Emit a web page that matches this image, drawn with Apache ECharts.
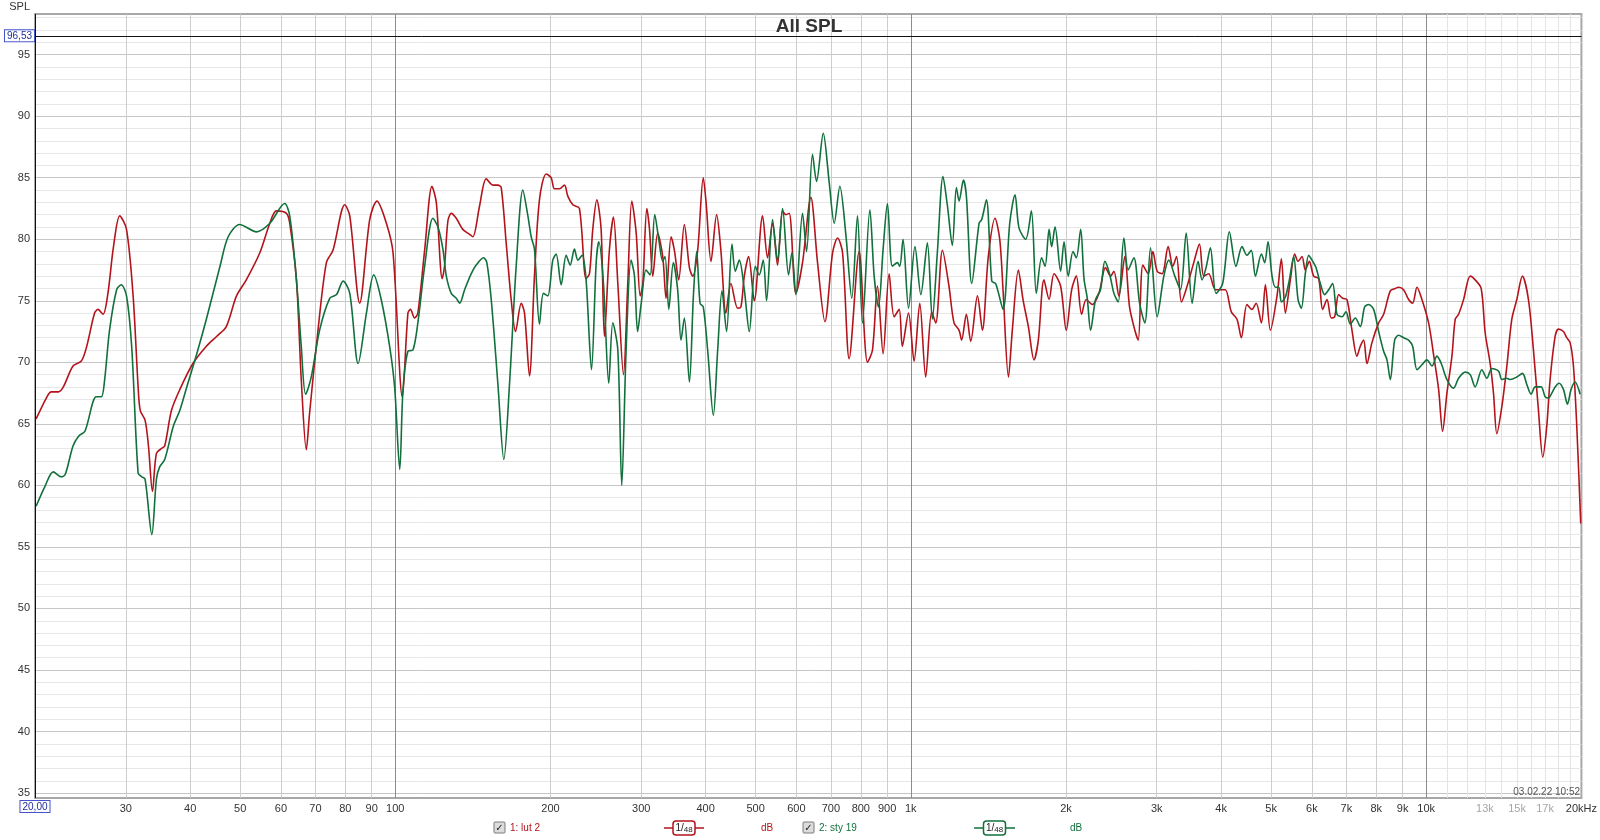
<!DOCTYPE html>
<html><head><meta charset="utf-8">
<script src="https://cdn.jsdelivr.net/npm/echarts@6/dist/echarts.min.js"></script>
<style>html,body{margin:0;padding:0;background:#fff}#c{width:1600px;height:840px}</style>
</head><body><div id="c"></div><script>
// ---- data (frequency Hz, level dB) ----
const lut2Curve = [[20.1,65.4],[21.1,67.2],[21.5,67.6],[22.2,67.6],[22.7,68.0],[23.7,69.7],[24.6,70.1],[25.2,71.3],[26.1,74.0],[26.5,74.3],[27.1,73.9],[27.7,75.6],[28.4,79.4],[29.2,81.9],[30.1,80.8],[31.0,75.4],[31.7,68.0],[32.0,66.1],[32.7,65.3],[33.2,63.2],[33.8,59.5],[34.4,62.6],[35.2,63.0],[35.7,63.2],[36.8,66.1],[38.2,67.8],[40.5,69.9],[43.0,71.3],[45.0,72.1],[47.0,72.9],[49.2,75.4],[51.4,76.7],[54.6,78.9],[57.1,81.3],[58.8,82.3],[61.5,82.1],[62.4,81.3],[64.3,76.7],[65.7,68.6],[67.2,62.9],[68.2,65.9],[70.8,72.6],[73.5,78.1],[75.7,79.1],[79.8,82.8],[81.6,81.9],[85.3,74.8],[89.2,81.6],[92.1,83.1],[96.1,81.3],[99.0,78.9],[103.2,67.2],[105.8,74.0],[107,74.3],[109,73.6],[110.6,74.0],[114,79.1],[117.8,84.3],[120.1,83.0],[123.3,76.8],[124.6,77.8],[126.5,81.5],[128.4,82.1],[131.3,81.7],[135.2,80.8],[139.3,80.4],[141.4,80.2],[145.7,82.7],[150.1,84.9],[154.6,84.4],[158.1,84.4],[160.5,84.2],[164.1,79.7],[167.8,75.1],[171.1,72.5],[175.5,74.8],[178.1,74.0],[182.1,68.9],[186.2,77.0],[190.4,83.2],[196.2,85.3],[200.6,85.0],[203.6,84.1],[208.2,84.1],[212.9,84.4],[216.1,83.5],[221,82.8],[227.6,82.5],[234.5,76.8],[238.1,77.2],[241.6,80.8],[246,83.2],[250.8,80.8],[254.5,72.1],[260.2,79.1],[265,81.8],[270.2,76.4],[277.1,69.0],[282.5,76.4],[287.6,83.1],[293.3,80.5],[298.6,75.4],[302.1,76.4],[307.6,82.5],[311.3,80.8],[315.9,77.0],[322.9,80.5],[330.2,78.6],[335.2,75.2],[342.8,80.2],[347.9,79.1],[354.6,76.7],[363.7,81.2],[372,77.7],[377.5,77.0],[386,79.1],[395.8,85.0],[400.6,83.1],[409.7,78.2],[420.1,82.0],[428.2,79.1],[437.9,74.0],[447.8,76.4],[461.4,74.4],[468.3,74.5],[475.4,77.0],[484.6,78.6],[497,75.0],[515.8,81.9],[527.4,78.5],[539.3,81.3],[551.5,77.9],[564,82.3],[572.4,82.0],[581,82.1],[598.6,75.6],[616.6,78.1],[640,83.4],[659.4,78.1],[681.5,73.3],[705.2,78.9],[721.2,80.1],[737.4,78.9],[759.4,70.3],[794,79.0],[824.2,70.0],[842.8,71.0],[861.8,76.2],[883.8,70.7],[907.8,77.2],[928.4,73.7],[949.4,74.3],[963,71.3],[990,74.0],[1015,70.1],[1041,74.8],[1069,68.8],[1098,74.1],[1118,73.2],[1152,79.1],[1186,76.2],[1213,73.2],[1241,72.6],[1255,71.8],[1282,73.9],[1307,71.7],[1347,75.4],[1377,72.6],[1414,78.6],[1457,81.7],[1488,80.0],[1510,75.9],[1547,68.8],[1574,72.6],[1617,77.5],[1651,75.1],[1691,72.9],[1734,70.2],[1768,71.8],[1813,76.7],[1855,75.1],[1896,77.2],[1953,76.2],[2003,72.6],[2052,75.9],[2095,77.0],[2145,73.9],[2190,75.1],[2249,74.7],[2317,75.6],[2387,77.7],[2441,77.0],[2478,77.4],[2533,75.4],[2602,78.6],[2657,74.5],[2721,72.6],[2762,71.8],[2820,77.9],[2888,77.2],[2949,79.0],[3006,77.4],[3074,77.2],[3157,79.4],[3224,77.8],[3278,78.6],[3351,74.9],[3437,76.2],[3540,78.1],[3631,79.6],[3701,77.0],[3784,77.2],[3899,75.9],[3987,75.9],[4076,75.9],[4187,74.1],[4294,73.5],[4378,72.0],[4490,74.7],[4591,74.3],[4677,74.8],[4789,73.2],[4875,76.3],[4985,72.6],[5135,75.4],[5236,78.4],[5330,74.0],[5450,76.7],[5556,78.8],[5640,78.2],[5741,78.6],[5827,77.5],[5932,78.2],[6048,77.0],[6184,76.8],[6295,74.3],[6419,75.1],[6543,73.6],[6642,73.7],[6762,75.5],[6884,75.2],[7018,75.1],[7177,72.6],[7339,70.5],[7448,71.3],[7560,71.8],[7674,69.9],[7847,71.6],[8085,73.2],[8267,73.9],[8517,75.8],[8710,76.0],[8839,76.1],[9038,75.9],[9243,75.1],[9410,74.8],[9595,76.1],[9809,75.1],[10106,73.2],[10335,70.6],[10568,67.8],[10758,64.4],[10968,67.5],[11216,70.5],[11383,73.5],[11554,73.9],[11815,75.1],[12169,77.0],[12443,76.7],[12781,76.0],[13011,72.4],[13305,69.9],[13504,67.5],[13707,64.2],[14017,66.4],[14336,69.7],[14656,73.5],[14986,75.1],[15366,77.0],[15786,75.1],[16143,71.0],[16508,66.1],[16828,62.3],[17132,64.8],[17390,68.6],[17784,72.1],[18050,72.7],[18456,72.5],[18734,72.0],[19016,71.6],[19300,69.7],[19590,64.8],[19940,56.9]];

const sty19Curve = [[20.1,58.3],[20.9,59.9],[21.7,61.1],[22.5,60.7],[22.9,60.9],[23.7,63.2],[24.3,64.0],[25.0,64.4],[26.3,67.2],[26.9,67.2],[27.3,68.6],[27.9,72.6],[28.8,75.9],[29.4,76.3],[30.1,75.4],[30.8,71.3],[31.7,61.0],[32.2,60.7],[32.7,60.5],[33.7,56.0],[34.4,60.5],[34.9,61.5],[35.7,62.1],[37.1,64.8],[38.2,66.1],[39.4,68.0],[41.2,70.7],[43.0,73.5],[45.7,77.8],[47.4,80.2],[49.9,81.2],[53.8,80.6],[57.1,81.3],[61.0,82.9],[62.4,81.9],[64.3,76.7],[65.7,71.3],[67.0,67.4],[68.7,68.8],[71.3,72.6],[74.6,75.2],[76.9,75.5],[79.2,76.6],[81.6,75.6],[84.7,69.9],[87.9,74.0],[90.8,77.1],[93.9,75.1],[97.5,71.3],[99.7,68.0],[102,61.3],[103.5,67.8],[105.8,70.9],[108.2,71.0],[110.6,73.2],[114,77.8],[118.3,81.7],[121,81.0],[123.7,79.2],[125.6,77.0],[128.4,75.6],[131.3,75.2],[133.3,74.8],[136.3,75.9],[140.4,77.2],[143.5,77.9],[148.3,78.5],[150.5,78.1],[153.5,75.1],[158.1,68.3],[162.4,62.1],[166.6,68.3],[171.6,77.8],[176.8,84.0],[180.8,81.9],[183.5,80.2],[186.2,79.2],[190.4,73.1],[193.8,75.6],[197.6,75.4],[202.1,78.3],[205.1,78.8],[209.8,76.3],[214.5,78.7],[218.4,77.9],[222.6,79.2],[226,78.3],[230.4,78.7],[234.5,76.7],[240.2,69.4],[245.3,78.1],[248.2,79.8],[253.4,76.4],[259.5,68.3],[264.2,73.2],[270.2,71.0],[275,60.0],[280.4,71.0],[286.6,78.3],[290.9,77.1],[295.2,72.5],[299.8,74.7],[306.5,77.5],[312.1,77.1],[318.7,82.0],[324.4,80.0],[330.2,78.2],[333.7,78.6],[339.3,74.3],[346.2,78.1],[353,75.9],[358.3,71.8],[363.7,73.6],[372,68.4],[378.7,75.4],[384.3,79.0],[390.1,74.8],[395.8,74.5],[403.6,71.0],[414,65.7],[422.1,71.0],[430.3,75.8],[439.2,72.5],[449.9,79.6],[456.6,77.4],[464.9,78.3],[475.4,75.9],[486.1,72.5],[499.3,77.8],[508.2,77.1],[517.3,78.3],[525.1,75.0],[539.3,81.6],[551.5,78.3],[564,82.5],[579.3,77.1],[588,78.9],[598.6,75.5],[616.6,82.1],[627.8,79.0],[644.7,86.9],[656.4,84.7],[676.4,88.6],[694.7,84.6],[710.4,81.3],[728.5,84.3],[748.2,80.4],[768.4,75.2],[788.2,81.9],[806,73.2],[833,82.4],[849.2,77.0],[865.8,74.5],[883.8,79.2],[901,82.9],[921,77.8],[942,78.1],[952,77.8],[966,80.0],[990,74.4],[1019,79.4],[1046,75.5],[1077,79.7],[1101,73.5],[1126,78.9],[1155,85.1],[1178,82.7],[1204,79.5],[1226,84.2],[1241,83.1],[1265,84.8],[1282,83.5],[1313,76.4],[1357,81.3],[1373,81.6],[1402,83.2],[1436,76.6],[1461,76.4],[1510,74.3],[1556,81.3],[1593,83.6],[1622,80.9],[1671,80.0],[1714,82.3],[1752,75.6],[1794,78.5],[1822,77.8],[1855,80.8],[1876,79.4],[1905,81.0],[1953,77.4],[1983,79.8],[2021,77.0],[2064,79.0],[2095,78.5],[2136,80.8],[2168,76.8],[2200,75.2],[2233,72.6],[2283,75.1],[2334,75.9],[2380,78.2],[2430,77.2],[2478,75.6],[2526,74.9],[2591,80.1],[2641,77.5],[2709,78.5],[2779,74.8],[2845,73.2],[2918,79.3],[3006,73.7],[3097,77.0],[3167,78.3],[3253,77.0],[3336,75.9],[3422,80.5],[3514,74.8],[3609,78.2],[3674,76.7],[3740,77.7],[3813,79.3],[3911,75.6],[4028,76.4],[4150,80.6],[4275,77.8],[4391,79.4],[4490,78.7],[4577,79.1],[4662,77.0],[4789,78.8],[4860,78.1],[4933,79.8],[5022,77.0],[5097,76.1],[5174,76.1],[5236,74.9],[5330,75.3],[5426,76.7],[5531,78.6],[5640,75.1],[5724,74.4],[5827,77.2],[5915,78.7],[6003,78.3],[6111,77.7],[6231,76.4],[6352,75.5],[6467,75.9],[6583,76.4],[6711,73.9],[6863,73.7],[6987,74.1],[7124,73.1],[7284,73.6],[7448,72.9],[7594,74.5],[7732,74.7],[7906,74.3],[8085,72.5],[8267,70.9],[8391,70.2],[8517,68.6],[8684,71.8],[8839,72.2],[9038,72.0],[9243,71.8],[9410,71.3],[9595,69.4],[9809,69.8],[10031,70.2],[10258,69.7],[10489,70.5],[10694,69.9],[10968,68.6],[11299,67.9],[11554,68.7],[11902,69.2],[12169,69.0],[12443,68.0],[12819,69.4],[13109,68.7],[13404,69.5],[13812,69.3],[14020,68.6],[14336,68.7],[14550,68.6],[14986,68.8],[15372,69.1],[15670,68.2],[15976,67.4],[16266,68.0],[16708,68.0],[17008,67.2],[17264,67.1],[17522,67.5],[17784,68.0],[18104,68.3],[18456,67.8],[18790,66.6],[19100,67.8],[19444,68.4],[19886,67.4]];

// ---- tick labels ----
const xLabelValues = [30,40,50,60,70,80,90,100,200,300,400,500,600,700,800,900,1000,2000,3000,4000,5000,6000,7000,8000,9000,10000,13000,15000,17000,20000];
const xGridValues = [30,40,50,60,70,80,90,100,200,300,400,500,600,700,800,900,1000,2000,3000,4000,5000,6000,7000,8000,9000,10000,11000,12000,13000,14000,15000,16000,17000,18000,19000];
const yLabelValues = [35,40,45,50,55,60,65,70,75,80,85,90,95];
const yGridValues = [];
for (let v = 35; v <= 98; v++) yGridValues.push(v);
const cursorHz = 20, cursorDb = 96.53;

const FONT = '"Liberation Sans", Arial, sans-serif';
const RED = '#b3141b', GREEN = '#11703c';

const xGridColors = xGridValues.map(v => (v === 100 || v === 1000 || v === 10000) ? '#8c8c8c' : (v > 10000 ? '#e4e4e4' : '#cdcdcd'));
const yGridColors = ['#c6c6c6', '#e7e7e7', '#e7e7e7', '#e7e7e7', '#e7e7e7'];

const chart = echarts.init(document.getElementById('c'), null, {renderer: 'canvas'});

function txt(x, y, text, fill, font, align) {
  return {type: 'text', x: x, y: y, silent: true, z: 100,
    style: {text: text, fill: fill, font: font, textAlign: align || 'left', textVerticalAlign: 'middle', align: align || 'left', verticalAlign: 'middle'}};
}
function checkbox(x, y) {
  return [
    {type: 'rect', silent: true, z: 100, shape: {x: x, y: y - 6, width: 11, height: 11, r: 1}, style: {fill: '#dcdcdc', stroke: '#7a7a7a', lineWidth: 1}},
    txt(x + 5.5, y, '\u2713', '#222', 'bold 10px "DejaVu Sans", sans-serif', 'center')
  ];
}
function smoothBox(x1, x2, y, color) {
  const cx = (x1 + x2) / 2;
  return [
    {type: 'line', silent: true, z: 100, shape: {x1: x1, y1: y, x2: x2, y2: y}, style: {stroke: color, lineWidth: 1.5}},
    {type: 'rect', silent: true, z: 101, shape: {x: cx - 11, y: y - 7, width: 22, height: 14, r: 3}, style: {fill: '#fff', stroke: color, lineWidth: 1.5}},
    {type: 'text', silent: true, z: 102, x: cx, y: y,
      style: {text: '{a|1}{b|/}{c|48}', textAlign: 'center', align: 'center', textVerticalAlign: 'middle', verticalAlign: 'middle',
        rich: {a: {fontSize: 10, fill: '#222', fontFamily: 'Liberation Sans'}, b: {fontSize: 10, fill: '#222', fontFamily: 'Liberation Sans'}, c: {fontSize: 8, fill: '#222', fontFamily: 'Liberation Sans', padding: [4, 0, 0, 0]}}}}
  ];
}

const legendY = 828;
const graphics = [].concat(
  [txt(30, 7, 'SPL', '#333', '11px ' + FONT, 'right')],
  [txt(809, 27, 'All SPL', '#333', 'bold 19px ' + FONT, 'center')],
  [txt(1580, 792, '03.02.22 10:52', '#555', '10px ' + FONT, 'right')],
  checkbox(494, legendY),
  [txt(510, legendY, '1: lut 2', RED, '10px ' + FONT, 'left')],
  smoothBox(664, 704, legendY, RED),
  [txt(767, legendY, 'dB', RED, '10px ' + FONT, 'center')],
  checkbox(803, legendY),
  [txt(819, legendY, '2: sty 19', GREEN, '10px ' + FONT, 'left')],
  smoothBox(974, 1015, legendY, GREEN),
  [txt(1076, legendY, 'dB', GREEN, '10px ' + FONT, 'center')]
);

const cursorLabel = {
  show: true, position: 'start', distance: 2, fontFamily: 'Liberation Sans', fontSize: 10, color: '#1f2f9a',
  backgroundColor: '#fff', borderColor: '#4455cc', borderWidth: 1, padding: [1, 2, 0, 2]
};

chart.setOption({
  animation: false,
  backgroundColor: '#fff',
  textStyle: {fontFamily: FONT},
  grid: {left: 35, right: 17, top: 14, bottom: 42, show: true, borderColor: '#a8a8a8', borderWidth: 2, backgroundColor: '#fff', containLabel: false},
  xAxis: {
    type: 'log', logBase: 10, min: 20, max: 20000,
    axisLine: {show: false},
    axisTick: {show: false, customValues: xGridValues},
    axisLabel: {
      customValues: xLabelValues, fontSize: 11, margin: 5, fontFamily: 'Liberation Sans',
      formatter: v => v >= 20000 ? '20kHz' : (v >= 1000 ? (v / 1000) + 'k' : String(v)),
      color: v => (v === 13000 || v === 15000 || v === 17000) ? '#a6a6a6' : '#333'
    },
    splitLine: {show: true, lineStyle: {color: xGridColors, width: 1}},
    minorTick: {show: false}, minorSplitLine: {show: false}
  },
  yAxis: {
    type: 'value', min: 34.6, max: 98.3,
    axisLine: {show: false},
    axisTick: {show: false, customValues: yGridValues},
    axisLabel: {customValues: yLabelValues, fontSize: 11, margin: 5, color: '#333', fontFamily: 'Liberation Sans'},
    splitLine: {show: true, lineStyle: {color: yGridColors, width: 1}}
  },
  graphic: {elements: graphics},
  series: [
    {
      name: '1: lut 2', type: 'line', data: lut2Curve, showSymbol: false, smooth: 0.3,
      lineStyle: {color: RED, width: 1.6}, itemStyle: {color: RED}, z: 3, silent: true,
      markLine: {
        silent: true, symbol: ['none', 'none'], animation: false,
        lineStyle: {color: '#111', width: 1, type: 'solid'},
        data: [
          {yAxis: cursorDb, label: Object.assign({}, cursorLabel, {formatter: '96,53', distance: 1})},
          {xAxis: cursorHz, label: Object.assign({}, cursorLabel, {formatter: '20,00', distance: 3})}
        ]
      }
    },
    {
      name: '2: sty 19', type: 'line', data: sty19Curve, showSymbol: false, smooth: 0.3,
      lineStyle: {color: GREEN, width: 1.6}, itemStyle: {color: GREEN}, z: 4, silent: true
    }
  ]
});
</script></body></html>
